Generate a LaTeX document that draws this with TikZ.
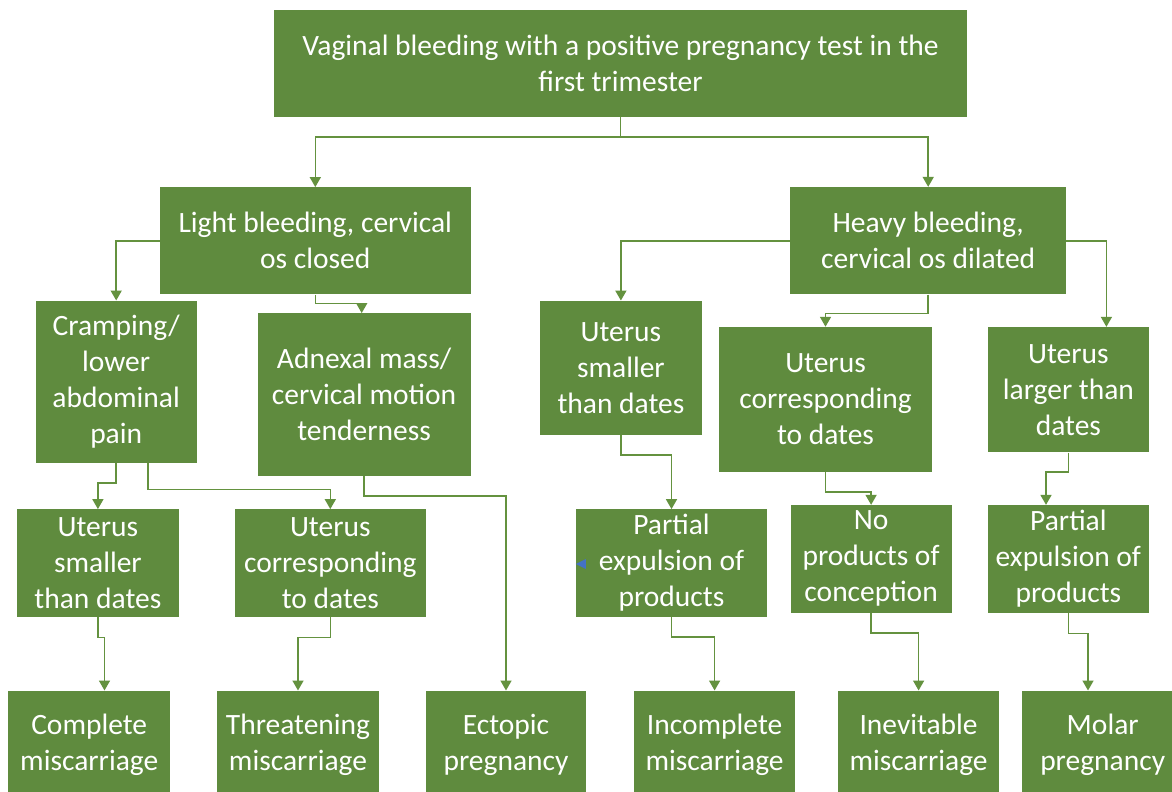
\documentclass[tikz,border=0pt]{standalone}
\usepackage{fontspec}
\setmainfont{Carlito}
\usetikzlibrary{arrows.meta}
\definecolor{boxgreen}{HTML}{5F8B3E}
\definecolor{linegreen}{HTML}{64923F}
\definecolor{strayblue}{HTML}{4472C4}
\tikzset{
  box/.style={fill=boxgreen, draw=none, inner sep=0pt, align=center,
    text=white, font=\fontsize{29.5}{36}\selectfont},
  conn/.style={draw=linegreen, line width=1.6pt,
    -{Triangle[width=11pt,length=10pt]}},
}
\begin{document}
\begin{tikzpicture}[x=1pt,y=-1pt]
\useasboundingbox (0,0) rectangle (1172,792);
\clip (0,0) rectangle (1172,792);
\fill[white] (0,0) rectangle (1172,792);

% level 0
\node[box, minimum width=693, minimum height=107] (top) at (620.5,63.5)
  {Vaginal bleeding with a positive pregnancy test in the\\first trimester};

% level 1
\node[box, minimum width=310.7, minimum height=107] (light) at (315.3,240.8)
  {Light bleeding, cervical\\os closed};
\node[box, minimum width=276, minimum height=107.3] (heavy) at (928.2,240.7)
  {Heavy bleeding,\\cervical os dilated};

% level 2
\node[box, minimum width=161, minimum height=162] (cramp) at (116.2,381.7)
  {Cramping/\\lower\\abdominal\\pain};
\node[box, minimum width=213.2, minimum height=162.4] (adnex) at (364.1,394.5)
  {Adnexal mass/\\cervical motion\\tenderness};
\node[box, minimum width=161.7, minimum height=134.3] (usmR) at (620.9,367.9)
  {Uterus\\smaller\\than dates};
\node[box, minimum width=213, minimum height=144.7] (ucoR) at (825.5,399.3)
  {Uterus\\corresponding\\to dates};
\node[box, minimum width=161.3, minimum height=125.3] (ulgR) at (1068.4,389.7)
  {Uterus\\larger than\\dates};

% level 3
\node[box, minimum width=161.2, minimum height=107.4] (usmL) at (97.9,563)
  {Uterus\\smaller\\than dates};
\node[box, minimum width=190.6, minimum height=107.4] (ucoL) at (330.3,563)
  {Uterus\\corresponding\\to dates};
\node[box, minimum width=191, minimum height=107.4] (parM) at (671.5,563)
  {Partial\\expulsion of\\products};
\node[box, minimum width=161.2, minimum height=107.7] (nopr) at (871.1,558.9)
  {No\\products of\\conception};
\node[box, minimum width=161.3, minimum height=107.5] (parR) at (1068.4,558.8)
  {Partial\\expulsion of\\products};

% outcomes
\node[box, minimum width=161.6, minimum height=107.4] (compl) at (89.2,744.4)
  {Complete\\miscarriage};
\node[box, minimum width=161.9, minimum height=107.4] (threat) at (298,744.4)
  {Threatening\\miscarriage};
\node[box, minimum width=160.7, minimum height=107.4] (ectop) at (506,744.4)
  {Ectopic\\pregnancy};
\node[box, minimum width=161.2, minimum height=107.4] (incom) at (714.6,744.4)
  {Incomplete\\miscarriage};
\node[box, minimum width=160.8, minimum height=107.4] (inevi) at (918.6,744.4)
  {Inevitable\\miscarriage};
\node[box, minimum width=160.6, minimum height=107.4] (molar) at (1102.7,744.4)
  {Molar\\pregnancy};

% connectors
\draw[conn] (top.south) -- ++(0,19.6) -| (light.north);
\draw[conn] (top.south) -- ++(0,19.6) -| (heavy.north);

\draw[conn] (light.west) -| (cramp.north);
\draw[conn] (light.south) -- ++(0,9) -| ([xshift=-2.4pt]adnex.north);
\draw[conn] (heavy.west) -| (usmR.north);
\draw[conn] (heavy.south) -- ++(0,19) -| (ucoR.north);
\draw[conn] (heavy.east) -| ([xshift=38pt]ulgR.north);

\draw[conn] (cramp.south) -- ++(0,20) -| (usmL.north);
\draw[conn] ([xshift=31.5pt]cramp.south) -- ++(0,26.6) -| (ucoL.north);
\draw[conn] (adnex.south) -- ++(0,20.3) -| (ectop.north);
\draw[conn] (usmR.south) -- ++(0,20) -| (parM.north);
\draw[conn] (ucoR.south) -- ++(0,20) -| (nopr.north);
\draw[conn] (ulgR.south) -- ++(0,19.4) -| ([xshift=-22.4pt]parR.north);

\draw[conn] (usmL.south) -- ++(0,20.6) -| ([xshift=15.3pt]compl.north);
\draw[conn] (ucoL.south) -- ++(0,20.6) -| (threat.north);
\draw[conn] (parM.south) -- ++(0,20) -| (incom.north);
\draw[conn] (nopr.south) -- ++(0,20) -| (inevi.north);
\draw[conn] (parR.south) -- ++(0,20.7) -| ([xshift=-14.7pt]molar.north);

% small blue arrowhead on the left edge of the middle box
\fill[strayblue] (parM.west) ++(0,1) -- ++(10,-5) -- ++(0,10) -- cycle;
\end{tikzpicture}
\end{document}
